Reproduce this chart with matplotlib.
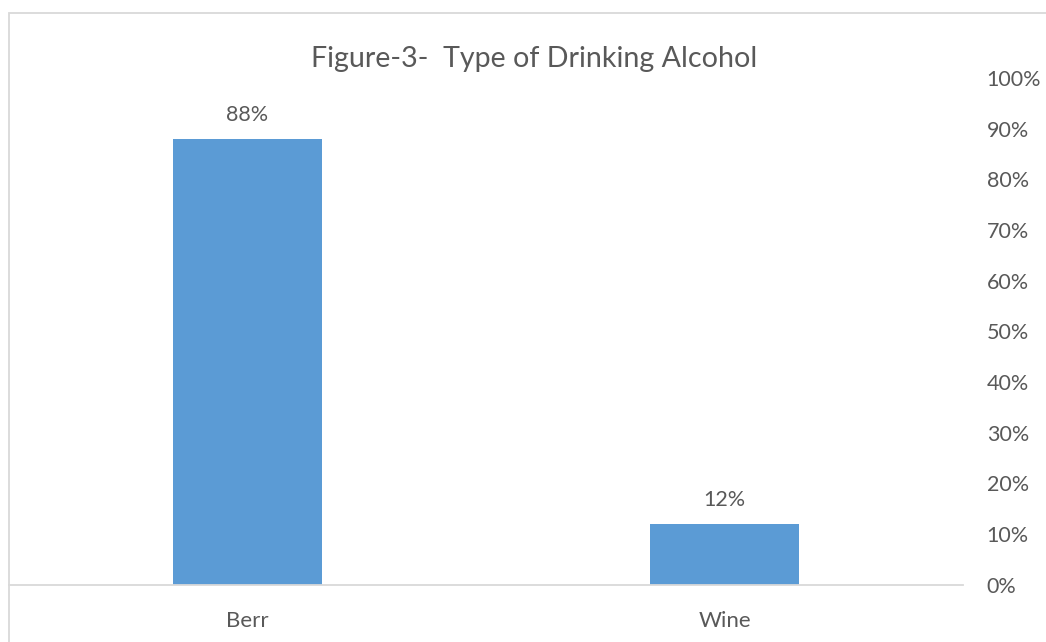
import matplotlib
matplotlib.use("Agg")
import matplotlib.pyplot as plt
from matplotlib.patches import Rectangle
from matplotlib.ticker import PercentFormatter

categories = ["Berr", "Wine"]
shares = [0.88, 0.12]
y_ticks = [0.0, 0.1, 0.2, 0.3, 0.4, 0.5, 0.6, 0.7, 0.8, 0.9, 1.0]
title = "Figure-3-  Type of Drinking Alcohol"

BAR = "#5B9BD5"
TEXT = "#595959"
LINE = "#D9D9D9"
FONT = "Lato"

W, H = 1046, 642
fig = plt.figure(figsize=(W / 100, H / 100), dpi=100)
fig.patch.set_facecolor("white")

# chart-area frame (extends past the right and bottom edges)
fig.patches.append(Rectangle((9 / W, -0.1), 1.2, (H - 13) / H + 0.1,
                             transform=fig.transFigure, fill=False,
                             edgecolor=LINE, linewidth=1.3))

ax = fig.add_axes([9 / W, (H - 584.7) / H, (963 - 9) / W, (584.7 - 78) / H])
x = list(range(len(categories)))
bars = ax.bar(x, shares, width=0.312, color=BAR, zorder=2)

ax.set_xlim(-0.5, len(categories) - 0.5)
ax.set_ylim(0, 1)
ax.set_xticks(x)
ax.set_xticklabels(categories, fontsize=16, color=TEXT, family=FONT)
ax.tick_params(axis="x", length=0, pad=19)

ax.yaxis.tick_right()
ax.set_yticks(y_ticks)
ax.yaxis.set_major_formatter(PercentFormatter(1.0, decimals=0))
ax.tick_params(axis="y", length=0, pad=17, labelsize=15.5, labelcolor=TEXT)
for lab in ax.get_yticklabels():
    lab.set_family(FONT)

for side in ("left", "right", "top"):
    ax.spines[side].set_visible(False)
ax.spines["bottom"].set_color(LINE)
ax.spines["bottom"].set_linewidth(1.3)

for rect, v in zip(bars, shares):
    ax.annotate(f"{v:.0%}", (rect.get_x() + rect.get_width() / 2, v),
                xytext=(0, 17), textcoords="offset points",
                ha="center", va="center", fontsize=15.5, color=TEXT, family=FONT)

fig.text(534 / W, (H - 59) / H, title, ha="center", va="center",
         fontsize=20.6, color=TEXT, family=FONT)

fig.savefig("out.png", dpi=100, facecolor="white")
